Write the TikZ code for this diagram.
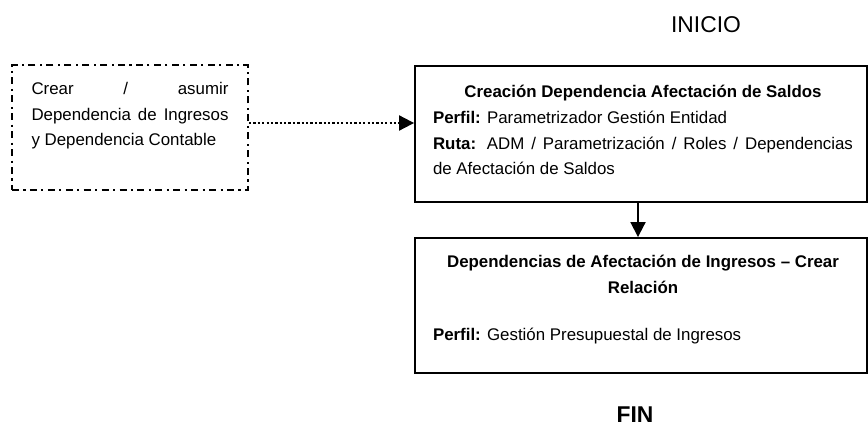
\documentclass[tikz,border=0pt]{standalone}
\usepackage{fontspec}
\setmainfont{Liberation Sans}
\usetikzlibrary{arrows.meta}
\hyphenpenalty=10000

\begin{document}
\begin{tikzpicture}[x=0.02cm, y=-0.02cm,
    every node/.style={font=\fontsize{9.6}{14.7}\selectfont},
    caja/.style={draw, line width=1.1pt, inner sep=0pt},
    cajapunteada/.style={caja, dash pattern=on 4pt off 2.5pt on 1.2pt off 2.5pt},
    flecha/.style={line width=1.1pt, -{Triangle[length=0.3cm, width=0.3cm]}}]

    \useasboundingbox (0,0) rectangle (868,426);

    \node[font=\fontsize{13}{15}\selectfont] (inicio) at (706,25) {INICIO};

    \node[cajapunteada, minimum width=4.72cm, minimum height=2.5cm] (asumir) at (130,127.5)
        {\parbox[c][1.82cm][t]{3.94cm}{Crear / asumir\linebreak Dependencia de Ingresos\linebreak y Dependencia Contable}};

    \node[caja, minimum width=9.04cm, minimum height=2.72cm] (saldos) at (641,134)
        {\hspace*{0.08cm}\parbox[c][1.96cm][t]{8.4cm}{{\centering\bfseries Creación Dependencia Afectación de Saldos\par}
        \textbf{Perfil:} Parametrizador Gestión Entidad\par
        \textbf{Ruta:} ADM / Parametrización / Roles / Dependencias\linebreak de Afectación de Saldos}};

    \node[caja, minimum width=9.04cm, minimum height=2.7cm] (ingresos) at (641,305.5)
        {\hspace*{0.08cm}\parbox[c][2.02cm][t]{8.4cm}{{\centering\bfseries Dependencias de Afectación de Ingresos – Crear\\ Relación\par}
        \vspace{0.42cm}
        \textbf{Perfil:} Gestión Presupuestal de Ingresos}};

    \node[font=\fontsize{13}{15}\selectfont\bfseries, anchor=base] (fin) at (635,422) {FIN};

    % \draw[dashed] (asumir) -- (saldos);
    \draw[flecha, dash pattern=on 1.3pt off 1.2pt] ([yshift=0.09cm]asumir.east) -- ([yshift=0.09cm]asumir.east -| saldos.west);
    \draw[flecha] ([xshift=-0.06cm]saldos.south) -- ([xshift=-0.06cm]saldos.south |- ingresos.north);
\end{tikzpicture}
\end{document}
